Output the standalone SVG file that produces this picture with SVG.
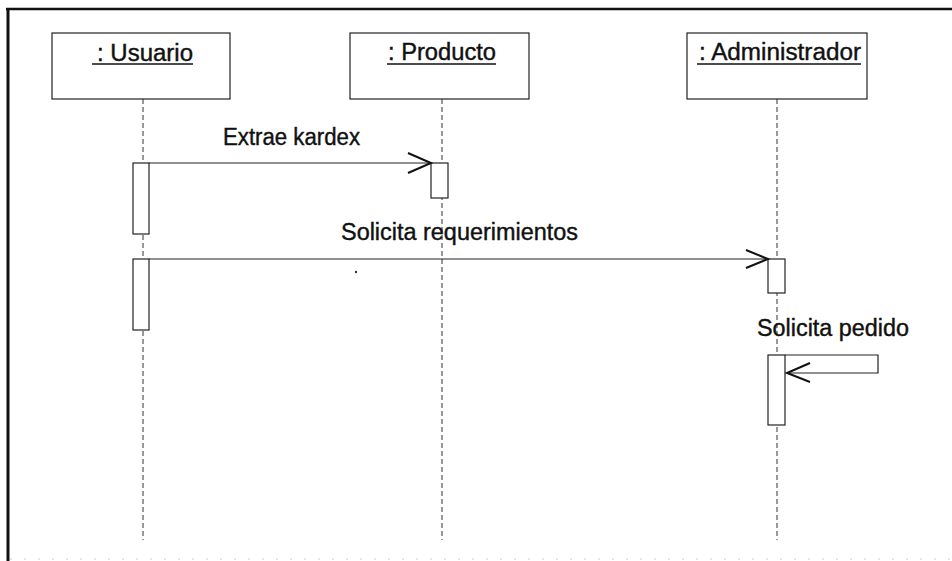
<svg xmlns="http://www.w3.org/2000/svg" width="952" height="561" viewBox="0 0 952 561">
<style>
.box{fill:#fff;stroke:#222;stroke-width:1.2}
.act{fill:#fff;stroke:#222;stroke-width:1.2}
.life{stroke:#333;stroke-width:1;stroke-dasharray:5,3;fill:none}
.msg{stroke:#222;stroke-width:1.2;fill:none}
.head{stroke:#111;stroke-width:2;fill:none}
.lbl{font-family:"Liberation Sans",Arial,sans-serif;font-size:23px;fill:#111;stroke:#111;stroke-width:0.4}
.ul{stroke:#111;stroke-width:1.4}
</style>
<rect width="952" height="561" fill="#fff"/>
<g id="frame">
<line x1="6" y1="9" x2="952" y2="9" stroke="#111" stroke-width="2.5"/>
<line x1="8" y1="8" x2="8" y2="561" stroke="#111" stroke-width="3"/>
<line x1="10" y1="559" x2="952" y2="559" stroke="#ccc" stroke-width="1" stroke-dasharray="2,12"/>
</g>
<g id="usuario">
<rect class="box" x="52" y="33" width="178" height="66"/>
<text class="lbl" x="97" y="61" textLength="96" lengthAdjust="spacingAndGlyphs">: Usuario</text>
<line class="ul" x1="92" y1="64" x2="193" y2="64"/>
<line class="life" x1="143" y1="99" x2="143" y2="540"/>
<rect class="act" x="133" y="163" width="16" height="71"/>
<rect class="act" x="133" y="259" width="16" height="71"/>
</g>
<g id="producto">
<rect class="box" x="350" y="33" width="179" height="66"/>
<text class="lbl" x="388" y="60" textLength="108" lengthAdjust="spacingAndGlyphs">: Producto</text>
<line class="ul" x1="387" y1="64" x2="496" y2="64"/>
<line class="life" x1="442" y1="99" x2="442" y2="540"/>
<rect class="act" x="431" y="163" width="17" height="35"/>
</g>
<g id="administrador">
<rect class="box" x="687" y="33" width="180" height="66"/>
<text class="lbl" x="699" y="60" textLength="162" lengthAdjust="spacingAndGlyphs">: Administrador</text>
<line class="ul" x1="697" y1="64" x2="861" y2="64"/>
<line class="life" x1="777" y1="99" x2="777" y2="540"/>
<rect class="act" x="768" y="259" width="17" height="34"/>
<rect class="act" x="768" y="355" width="17" height="70"/>
</g>
<g id="connectors">
<line class="msg" x1="149" y1="163" x2="431" y2="163"/>
<polyline class="head" points="408,153 431,163 408,173"/>
<text class="lbl" x="223" y="145" textLength="137" lengthAdjust="spacingAndGlyphs">Extrae kardex</text>
<line class="msg" x1="149" y1="259" x2="768" y2="259"/>
<polyline class="head" points="746,250 768,259 746,268"/>
<text class="lbl" x="341" y="240" textLength="237" lengthAdjust="spacingAndGlyphs">Solicita requerimientos</text>
<polyline class="msg" points="785,355 878,355 878,373 787,373"/>
<polyline class="head" points="810,363 787,373 810,382"/>
<text class="lbl" x="757" y="336" textLength="152" lengthAdjust="spacingAndGlyphs">Solicita pedido</text>
</g>
<circle cx="356" cy="272" r="1.2" fill="#333"/>
</svg>
